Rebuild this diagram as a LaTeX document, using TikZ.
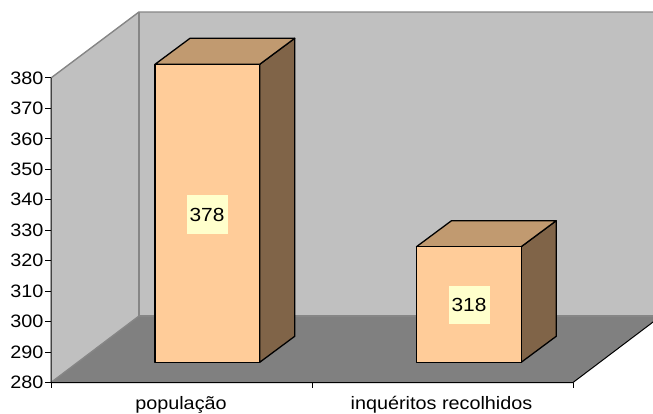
\documentclass[tikz,border=0pt]{standalone}
\usepackage{fontspec}
\setmainfont[FakeStretch=1.1]{Liberation Sans}
\definecolor{wallc}{HTML}{C0C0C0}
\definecolor{floorc}{HTML}{808080}
\definecolor{edgec}{HTML}{868686}
\definecolor{barfront}{HTML}{FFCC99}
\definecolor{bartop}{HTML}{C19A70}
\definecolor{barside}{HTML}{806448}
\definecolor{labc}{HTML}{FFFFCC}
\tikzset{
  edgeline/.style={draw=edgec, line width=1.4pt},
  axisline/.style={draw=black, line width=1pt},
  barline/.style={draw=black, line width=1.3pt, line join=round},
  ticklabel/.style={anchor=east, inner sep=0pt, font=\fontsize{18}{21}\selectfont},
  vallabel/.style={fill=labc, inner sep=0pt, minimum width=41pt, minimum height=38pt, font=\fontsize{19}{22}\selectfont},
  catlabel/.style={anchor=base, inner sep=0pt, font=\fontsize{18}{21}\selectfont}
}
\begin{document}
\begin{tikzpicture}[x=1pt,y=-1pt]
\useasboundingbox (0,0) rectangle (653,414);
\fill[white] (0,0) rectangle (653,414);
\begin{scope}
\clip (0,0) rectangle (653,414);
% walls and floor
\fill[wallc] (51,78) -- (139,12) -- (139,316) -- (51,382.5) -- cycle;
\fill[wallc] (139,12) rectangle (670,316);
\fill[floorc] (51,382.5) -- (573,382.5) -- (661,316) -- (139,316) -- cycle;
\draw[edgeline] (51,78) -- (139,12) -- (670,12);
\draw[edgeline] (139,12) -- (139,316) -- (670,316);
\draw[edgeline] (139,316) -- (51,382.5);
% axes
\draw[axisline] (51,78) -- (51,382.5) -- (573,382.5) -- (661,316);
\end{scope}
% y ticks and labels
\foreach \k in {0,...,10}{
  \pgfmathsetmacro{\yy}{382.5-\k*30.45}
  \pgfmathtruncatemacro{\val}{280+10*\k}
  \draw[axisline] (45,\yy) -- (51,\yy);
  \node[ticklabel] (t\k) at (43.5,\yy) {\val};
}
% x ticks
\draw[axisline] (51,382.5) -- (51,388);
\draw[axisline] (312,382.5) -- (312,388);
\draw[axisline] (573,382.5) -- (573,388);
% bar 1
\filldraw[barline, fill=barside] (259.7,64.3) -- (294.7,38.3) -- (294.7,336.3) -- (259.7,362.3) -- cycle;
\filldraw[barline, fill=bartop] (155,64.3) -- (190,38.3) -- (294.7,38.3) -- (259.7,64.3) -- cycle;
\filldraw[barline, fill=barfront] (155,64.3) rectangle (259.7,362.3);
% bar 2
\filldraw[barline, fill=barside] (521.2,246.7) -- (556.2,220.7) -- (556.2,336.3) -- (521.2,362.3) -- cycle;
\filldraw[barline, fill=bartop] (416.5,246.7) -- (451.5,220.7) -- (556.2,220.7) -- (521.2,246.7) -- cycle;
\filldraw[barline, fill=barfront] (416.5,246.7) rectangle (521.2,362.3);
% value labels
\node[vallabel] (v1) at (207,214.5) {378};
\node[vallabel] (v2) at (469,305) {318};
% category labels
\node[catlabel] (c1) at (181,409) {população};
\node[catlabel] (c2) at (441.5,409) {inquéritos recolhidos};
\end{tikzpicture}
\end{document}
